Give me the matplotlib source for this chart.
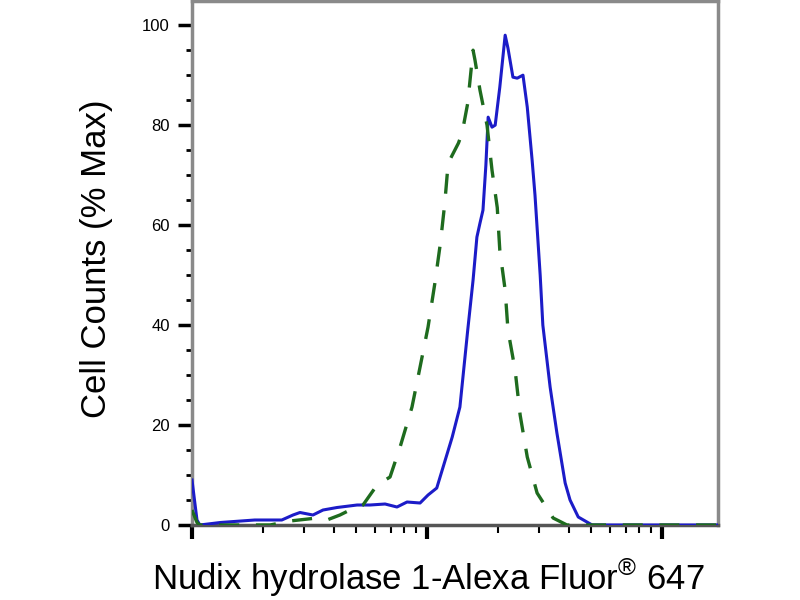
import numpy as np
import matplotlib.pyplot as plt
from matplotlib.ticker import FixedLocator, NullFormatter

plt.rcParams['font.family'] = ['Liberation Sans', 'DejaVu Sans']
plt.rcParams['mathtext.fontset'] = 'custom'
plt.rcParams['mathtext.rm'] = 'Liberation Sans'

# stained sample (solid blue)
stained_x = [1.00, 1.05, 1.08, 1.32, 1.85, 2.41, 2.69, 2.88, 3.27, 3.61, 4.14, 5.04,
             5.72, 6.63, 7.45, 8.22, 9.34, 10.1, 11.0, 12.5, 12.8, 13.8, 14.9, 15.7,
             16.3, 16.8, 17.3, 17.8, 18.2, 18.9, 19.5, 20.4, 21.5, 22.1, 23.2, 24.2,
             25.6, 26.7, 28.0, 28.8, 30.3, 31.1, 33.4, 35.7, 38.7, 40.6, 44.0, 50.4,
             88.9, 173]
stained_y = [9, 1, 0, 0.5, 1, 1, 2, 2.5, 2, 3, 3.5, 4,
             4, 4.2, 3.6, 4.6, 4.4, 6, 7.4, 16, 17.6, 23.6, 39, 49,
             57.6, 60.4, 63, 72, 81.6, 79.6, 80, 87.6, 98, 95.4, 89.6, 89.4,
             90, 83.6, 73, 66, 50, 40, 27.6, 18.4, 8.4, 5, 1.6, 0,
             0, 0]

# control (dashed green)
control_x = [1.00, 1.05, 1.08, 2.15, 2.37, 2.61, 3.40, 3.75, 4.26, 4.70, 5.34, 6.13,
             6.96, 7.68, 8.63, 9.34, 10.1, 10.8, 11.4, 11.9, 12.3, 13.6, 14.1, 14.9,
             15.7, 16.0, 16.8, 18.0, 18.9, 19.9, 20.4, 21.5, 22.1, 23.7, 24.9, 26.7,
             29.4, 34.4, 39.4, 173]
control_y = [3, 0.5, 0, 0, 0.4, 0.8, 1.4, 1, 2, 3, 4, 8,
             9.6, 15.6, 23.6, 31.6, 39.6, 48.4, 56.4, 64.4, 72.4, 76.4, 78.4, 84.4,
             95, 93, 87, 80, 71, 63.5, 55, 47, 39, 31, 22, 13.6,
             6.4, 1.4, 0, 0]

fig = plt.figure(figsize=(8, 6), dpi=100)
ax = fig.add_axes([0.24, 0.125, 0.6575, 0.873])

ax.plot(stained_x, stained_y, color='#1c1cc8', lw=2.2, zorder=3)
ax.plot(control_x, control_y, color='#1e6b1e', lw=2.4, dashes=(6, 5), zorder=4)

ax.set_xscale('log')
ax.set_xlim(1, 173)
ax.set_ylim(0, 104.8)

ax.xaxis.set_major_locator(FixedLocator([1, 10, 100]))
minors = [m * d for d in (1, 10, 100) for m in range(2, 10)]
ax.xaxis.set_minor_locator(FixedLocator(minors))
ax.xaxis.set_major_formatter(NullFormatter())
ax.xaxis.set_minor_formatter(NullFormatter())

ax.set_yticks([0, 20, 40, 60, 80, 100])
ax.set_yticks(np.arange(5, 100, 5), minor=True)

ax.tick_params(axis='x', which='major', direction='out', length=10, width=3, color='black')
ax.tick_params(axis='x', which='minor', direction='out', length=6, width=1.5, color='black')
ax.tick_params(axis='y', which='major', direction='out', length=10, width=2.5,
               color='black', labelsize=12, pad=6)
ax.tick_params(axis='y', which='minor', direction='out', length=4, width=2, color='black')

for s in ax.spines.values():
    s.set_color('#8a8a8a')
    s.set_linewidth(2.5)
ax.spines['bottom'].set_color('#555555')

fig.text(0.121, 0.568, 'Cell Counts (% Max)', rotation=90, fontsize=25,
         ha='center', va='center')
fig.text(0.535, 0.037, 'Nudix hydrolase 1-Alexa Fluor$^{\\mathrm{®}}$ 647', fontsize=25,
         ha='center', va='center')

fig.savefig('out.png', dpi=100)
